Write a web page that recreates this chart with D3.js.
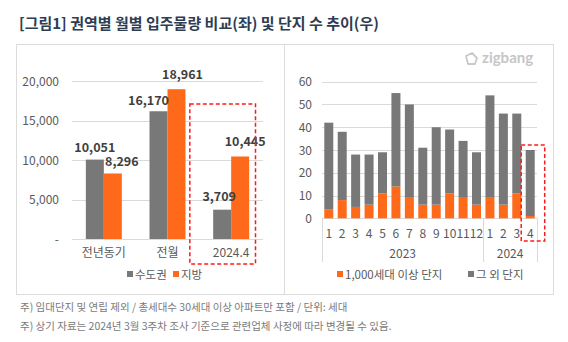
<!DOCTYPE html>
<html>
<head>
<meta charset="utf-8">
<script src="https://cdn.jsdelivr.net/npm/d3@7"></script>
<style>
  body { margin: 0; background: #fff; }
  text { font-family: "Noto Sans CJK KR", "Noto Sans", sans-serif; }
</style>
</head>
<body>
<div id="chart"></div>
<script>
// left chart data
const periods = ["전년동기", "전월", "2024.4"];
const capital = [10051, 16170, 3709];   // 수도권
const region = [8296, 18961, 10445];    // 지방
const leftTicks = [0, 5000, 10000, 15000, 20000];

// right chart data
const months = ["1", "2", "3", "4", "5", "6", "7", "8", "9", "10", "11", "12", "1", "2", "3", "4"];
const years = ["2023", "2023", "2023", "2023", "2023", "2023", "2023", "2023", "2023", "2023", "2023", "2023", "2024", "2024", "2024", "2024"];
const bigSites = [4, 8, 5, 6, 11, 14, 9, 6, 6, 11, 9, 6, 9, 6, 11, 1];
const otherSites = [38, 30, 23, 22, 18, 41, 41, 25, 34, 28, 25, 23, 45, 40, 35, 29];
const rightTicks = [0, 10, 20, 30, 40, 50, 60];

const width = 568, height = 342;
const gray = "#787878", orange = "#fe6a1a", grid = "#dadada", tickCol = "#595959";

const svg = d3.select("#chart").append("svg")
    .attr("width", width)
    .attr("height", height);

svg.append("rect").attr("width", width).attr("height", height).attr("fill", "#fff");

// title
svg.append("text")
    .attr("x", 19).attr("y", 29)
    .style("font-size", "15px").style("font-weight", "bold")
    .style("fill", "#2e3d52")
    .text("[그림1] 권역별 월별 입주물량 비교(좌) 및 단지 수 추이(우)");

// panel frame
svg.append("rect")
    .attr("x", 16.5).attr("y", 44.5).attr("width", 537).attr("height", 250)
    .attr("fill", "none").attr("stroke", "#dcdcdc");
svg.append("line")
    .attr("x1", 284.5).attr("x2", 284.5).attr("y1", 44.5).attr("y2", 294.5)
    .attr("stroke", "#dcdcdc");

// ---- left chart ----
const yL = d3.scaleLinear().domain([0, 20000]).range([239, 81]);
const x0 = d3.scaleBand().domain(periods).range([72, 263]);
const x1 = d3.scaleBand().domain(["capital", "region"]).range([0, x0.bandwidth()])
    .paddingInner(0).paddingOuter(0.77);

svg.append("g").selectAll("line")
    .data(leftTicks).enter().append("line")
    .attr("x1", 72).attr("x2", 263)
    .attr("y1", d => Math.round(yL(d)) + 0.5).attr("y2", d => Math.round(yL(d)) + 0.5)
    .attr("stroke", grid);

svg.append("g").selectAll("text")
    .data(leftTicks).enter().append("text")
    .attr("x", 59).attr("y", d => yL(d) + 4.5)
    .attr("text-anchor", "end")
    .style("font-size", "12px").style("fill", tickCol)
    .text(d => d === 0 ? "-" : d3.format(",")(d));

const leftRows = periods.map((p, i) => [
    { p: p, key: "capital", v: capital[i], color: gray },
    { p: p, key: "region", v: region[i], color: orange }
]).flat();

svg.append("g").selectAll("rect")
    .data(leftRows).enter().append("rect")
    .attr("x", d => x0(d.p) + x1(d.key))
    .attr("width", x1.bandwidth())
    .attr("y", d => yL(d.v))
    .attr("height", d => yL(0) - yL(d.v))
    .attr("fill", d => d.color);

// Excel style label nudges to avoid overlap
const nudgeX = [0, 9, -10, 6, -3, 5];
const nudgeY = [-4, -3, -2, -6, -5, -6];
svg.append("g").selectAll("text")
    .data(leftRows).enter().append("text")
    .attr("x", (d, i) => x0(d.p) + x1(d.key) + x1.bandwidth() / 2 + nudgeX[i])
    .attr("y", (d, i) => yL(d.v) - 4 + nudgeY[i])
    .attr("text-anchor", "middle")
    .style("font-size", "12.5px").style("font-weight", "bold")
    .style("fill", "#3f3f3f")
    .text(d => d3.format(",")(d.v));

svg.append("g").selectAll("text")
    .data(periods).enter().append("text")
    .attr("x", d => x0(d) + x0.bandwidth() / 2)
    .attr("y", 257)
    .attr("text-anchor", "middle")
    .style("font-size", "12px").style("fill", tickCol)
    .text(d => d);

// highlight box left
svg.append("rect")
    .attr("x", x0("2024.4") - 9.5).attr("y", 104)
    .attr("width", x0.bandwidth() + 2).attr("height", 160)
    .attr("fill", "none").attr("stroke", "#ff1a1a")
    .attr("stroke-width", 1.5).attr("stroke-dasharray", "4,2.5");

// left legend
const legL = [{ t: "수도권", c: gray, x: 127 }, { t: "지방", c: orange, x: 173 }];
const gL = svg.append("g").selectAll("g").data(legL).enter().append("g");
gL.append("rect").attr("x", d => d.x).attr("y", 271).attr("width", 6).attr("height", 6).attr("fill", d => d.c);
gL.append("text").attr("x", d => d.x + 8).attr("y", 279)
    .style("font-size", "11.5px").style("fill", tickCol).text(d => d.t);

// ---- right chart ----
const yR = d3.scaleLinear().domain([0, 60]).range([218.3, 81.7]);
const xR = d3.scaleBand().domain(d3.range(months.length)).range([322, 537])
    .paddingInner(0.33).paddingOuter(0.17);

svg.append("g").selectAll("line")
    .data(rightTicks).enter().append("line")
    .attr("x1", 322).attr("x2", 537)
    .attr("y1", d => Math.round(yR(d)) + 0.5).attr("y2", d => Math.round(yR(d)) + 0.5)
    .attr("stroke", grid);

svg.append("g").selectAll("text")
    .data(rightTicks).enter().append("text")
    .attr("x", 312).attr("y", d => yR(d) + 4.5)
    .attr("text-anchor", "end")
    .style("font-size", "12px").style("fill", tickCol)
    .text(d => d);

const stack = d3.stack().keys(["big", "other"])(
    months.map((m, i) => ({ i: i, big: bigSites[i], other: otherSites[i] }))
);
const stackColors = { big: orange, other: gray };

svg.append("g").selectAll("g")
    .data(stack).enter().append("g")
    .attr("fill", s => stackColors[s.key])
    .selectAll("rect")
    .data(s => s).enter().append("rect")
    .attr("x", d => xR(d.data.i))
    .attr("width", xR.bandwidth())
    .attr("y", d => yR(d[1]))
    .attr("height", d => yR(d[0]) - yR(d[1]));

svg.append("g").selectAll("text")
    .data(months).enter().append("text")
    .attr("x", (d, i) => xR(i) + xR.bandwidth() / 2)
    .attr("y", 238)
    .attr("text-anchor", "middle")
    .style("font-size", "12px").style("fill", tickCol)
    .text(d => d);

// year grouping
const yearNames = Array.from(new Set(years));
const half = (xR.step() - xR.bandwidth()) / 2;
const yearSpans = yearNames.map(y => {
    const idx = d3.range(years.length).filter(i => years[i] === y);
    return { y: y, x0: xR(idx[0]) - half, x1: xR(idx[idx.length - 1]) + xR.bandwidth() + half };
});
const seps = [yearSpans[0].x0].concat(yearSpans.map(s => s.x1));
svg.append("g").selectAll("line")
    .data(seps).enter().append("line")
    .attr("x1", d => Math.round(d) + 0.5).attr("x2", d => Math.round(d) + 0.5)
    .attr("y1", yR(0)).attr("y2", 262)
    .attr("stroke", grid);
svg.append("g").selectAll("text")
    .data(yearSpans).enter().append("text")
    .attr("x", d => (d.x0 + d.x1) / 2)
    .attr("y", 258)
    .attr("text-anchor", "middle")
    .style("font-size", "12px").style("fill", tickCol)
    .text(d => d.y);

// highlight box right
svg.append("rect")
    .attr("x", xR(15) - 4.5).attr("y", 145)
    .attr("width", 23.5).attr("height", 96)
    .attr("fill", "none").attr("stroke", "#ff1a1a")
    .attr("stroke-width", 1.5).attr("stroke-dasharray", "4,2.5");

// right legend
const legR = [{ t: "1,000세대 이상 단지", c: orange, x: 337 }, { t: "그 외 단지", c: gray, x: 468 }];
const gR = svg.append("g").selectAll("g").data(legR).enter().append("g");
gR.append("rect").attr("x", d => d.x).attr("y", 271).attr("width", 6).attr("height", 6).attr("fill", d => d.c);
gR.append("text").attr("x", d => d.x + 8).attr("y", 279)
    .style("font-size", "11.5px").style("fill", tickCol).text(d => d.t);

// zigbang logo
const logo = svg.append("g").attr("transform", "translate(471,59)");
logo.append("path")
    .attr("d", "M-5,-3 L1,-6 L6,-1 L4,5 L-3,5 Z")
    .attr("fill", "none").attr("stroke", "#c9c9c9").attr("stroke-width", 1.8)
    .attr("stroke-linejoin", "round");
svg.append("text")
    .attr("x", 482).attr("y", 63)
    .style("font-family", "Lato, 'Noto Sans', sans-serif")
    .style("font-size", "15px").style("font-weight", "bold")
    .style("fill", "#c6c6c6")
    .text("zigbang");

// footnotes
const notes = [
    "주) 임대단지 및 연립 제외 / 총세대수 30세대 이상 아파트만 포함 / 단위: 세대",
    "주) 상기 자료는 2024년 3월 3주차 조사 기준으로 관련업체 사정에 따라 변경될 수 있음."
];
svg.append("g").selectAll("text")
    .data(notes).enter().append("text")
    .attr("x", 20).attr("y", (d, i) => 311 + i * 19)
    .style("font-size", "10.5px").style("fill", "#7a7a7a")
    .text(d => d);
</script>
</body>
</html>
